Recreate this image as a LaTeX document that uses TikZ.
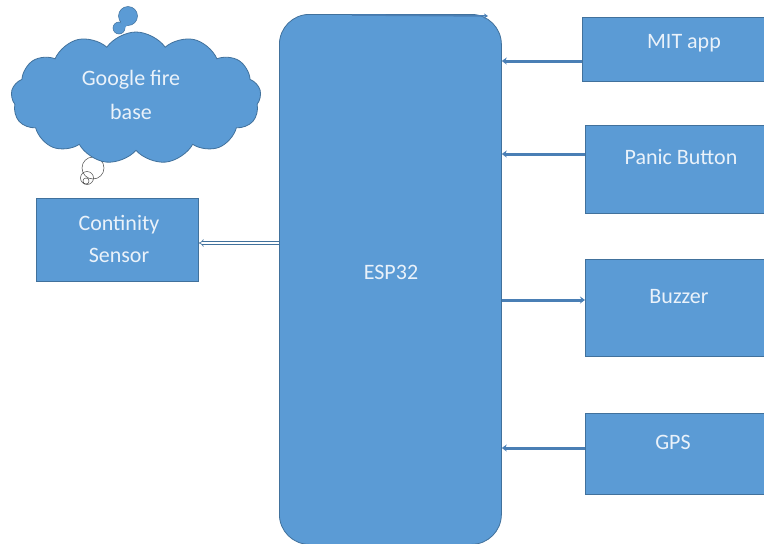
\documentclass[tikz,border=0pt]{standalone}
\usepackage{fontspec}
\setmainfont{Carlito}
\usetikzlibrary{shapes.symbols,arrows.meta}
\definecolor{boxfill}{HTML}{5B9BD5}
\definecolor{boxline}{HTML}{41719C}
\definecolor{arrowc}{HTML}{4A7FB5}
\definecolor{txt}{HTML}{EAF2FA}
\begin{document}
\begin{tikzpicture}[x=1pt,y=-1pt,
  blk/.style={draw=boxline,fill=boxfill,line width=0.8pt},
  lbl/.style={text=txt,font=\fontsize{22}{27}\selectfont,align=center,inner sep=0pt},
  conn/.style={draw=arrowc,line width=3pt,-{Stealth[length=5pt,width=7pt]}},
  dconn/.style={draw=boxline,double=white,double distance=2pt,line width=0.6pt,-{Implies[length=4pt]}}]
\useasboundingbox (0,0) rectangle (764,544);
% ESP32
\node[blk,rounded corners=30pt,minimum width=222pt,minimum height=530pt,anchor=north west] (esp) at (279,14) {};
\node[lbl] (esplbl) at (391,272) {ESP32};
% right boxes
\node[blk,minimum width=184pt,minimum height=64pt,anchor=north west] (mit) at (582,17) {};
\node[lbl] (mitl) at (684,43) {MIT app};
\node[blk,minimum width=182pt,minimum height=88pt,anchor=north west] (panic) at (585,125) {};
\node[lbl] (panicl) at (681,157) {Panic Button};
\node[blk,minimum width=182pt,minimum height=97pt,anchor=north west] (buzz) at (585,259) {};
\node[lbl] (buzzl) at (679,297) {Buzzer};
\node[blk,minimum width=182pt,minimum height=81pt,anchor=north west] (gps) at (585,413) {};
\node[lbl] (gpsl) at (673,442) {GPS};
% continuity sensor
\node[blk,minimum width=162pt,minimum height=83pt,anchor=north west] (cont) at (36,198) {};
\node[lbl] (contl) at (119,239) {Continity\\[5pt]Sensor};
% thought bubbles
\draw[gray!60!black,line width=0.5pt] (93,168) circle (11) (87,178) circle (6.5) (86,181) circle (3);
% cloud
\node[cloud,cloud puffs=13,cloud puff arc=110,aspect=1.9,draw=boxline,fill=boxfill,line width=0.8pt,minimum width=250pt,minimum height=132pt,inner sep=0pt] (cloud) at (136,98) {};
\node[lbl] (cloudl) at (131,95) {Google fire\\[7pt]base};
\fill[boxfill,draw=boxline,line width=0.5pt] (128,16) circle (9.5) (119,28) circle (6);
\fill[boxfill] (121,22) -- (132,20) -- (123,30) -- cycle;
% connectors
\coordinate (t1) at (352,15);
\coordinate (t2) at (488,16);
\draw[draw=arrowc,line width=1.5pt,-{Stealth[length=4pt,width=5pt]}] (t1) -- (t2);
\draw[conn] (mit.west |- 0,61) -- (esp.east |- 0,61);
\draw[conn] (panic.west |- 0,154) -- (esp.east |- 0,154);
\draw[conn] (esp.east |- 0,300) -- (buzz.west |- 0,300);
\draw[conn] (gps.west |- 0,448) -- (esp.east |- 0,448);
\draw[dconn] (esp.west |- 0,243) -- (cont.east |- 0,243);
\end{tikzpicture}
\end{document}
